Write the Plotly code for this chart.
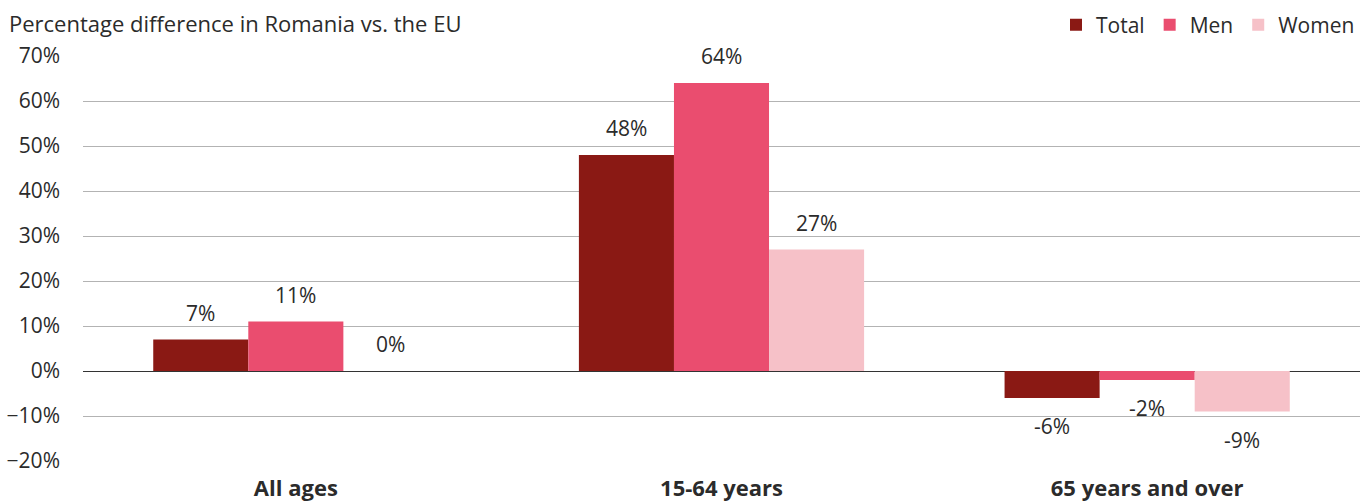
import plotly.graph_objects as go

# Age groups and percentage differences (Romania vs. EU)
categories = ["All ages", "15-64 years", "65 years and over"]
total = [7, 48, -6]
men = [11, 64, -2]
women = [0, 27, -9]

series = [
    ("Total", total, "#8A1914"),
    ("Men", men, "#EA4D6F"),
    ("Women", women, "#F6C1C8"),
]

FONT = "Open Sans"
TEXT = "#2b2b2b"

fig = go.Figure()
for name, vals, color in series:
    fig.add_trace(go.Bar(
        name=name, x=categories, y=vals,
        marker=dict(color=color, line=dict(width=0)),
        offsetgroup=name,
    ))

# Value labels, placed just beyond the end of each bar
n = len(series)
width = 1 - 0.33
for i, (name, vals, color) in enumerate(series):
    for j, v in enumerate(vals):
        xoff = (i - (n - 1) / 2) * width / n
        fig.add_annotation(
            x=j + xoff, y=v, xref="x", yref="y",
            text=f"{v}%", showarrow=False,
            yshift=27 if v >= 0 else -28, yanchor="middle",
            font=dict(family=FONT, size=21, color=TEXT),
        )

fig.update_layout(
    width=1360, height=501,
    margin=dict(l=83, r=0, t=56, b=40, autoexpand=False),
    paper_bgcolor="white", plot_bgcolor="white",
    barmode="group", bargap=0.33, bargroupgap=0,
    font=dict(family=FONT, size=21, color=TEXT),
    title=dict(
        text="Percentage difference in Romania vs. the EU",
        xref="container", yref="container",
        x=9 / 1360, xanchor="left", y=1 - 24 / 501, yanchor="middle",
        font=dict(family=FONT, size=22, color=TEXT),
    ),
    legend=dict(
        orientation="h", xref="container", yref="container",
        x=1, xanchor="right", y=1 - 25 / 501, yanchor="middle",
        font=dict(family=FONT, size=21, color=TEXT),
        itemsizing="constant", traceorder="normal",
        itemwidth=30, tracegroupgap=0,
        bgcolor="rgba(0,0,0,0)",
    ),
    xaxis=dict(
        type="category", range=[-0.5, 2.5],
        showgrid=False, showline=False, ticks="",
        tickfont=dict(family=FONT, size=22, color=TEXT, weight="bold"),
        ticklabelstandoff=12,
    ),
    yaxis=dict(
        range=[-20, 70], dtick=10, ticksuffix="%",
        showgrid=True, gridcolor="#b3b3b3", gridwidth=1,
        zeroline=True, zerolinecolor="#333333", zerolinewidth=1,
        showline=False, ticks="",
        tickfont=dict(family=FONT, size=21, color=TEXT),
        ticklabelstandoff=22,
    ),
)

fig.write_html("out.html")
